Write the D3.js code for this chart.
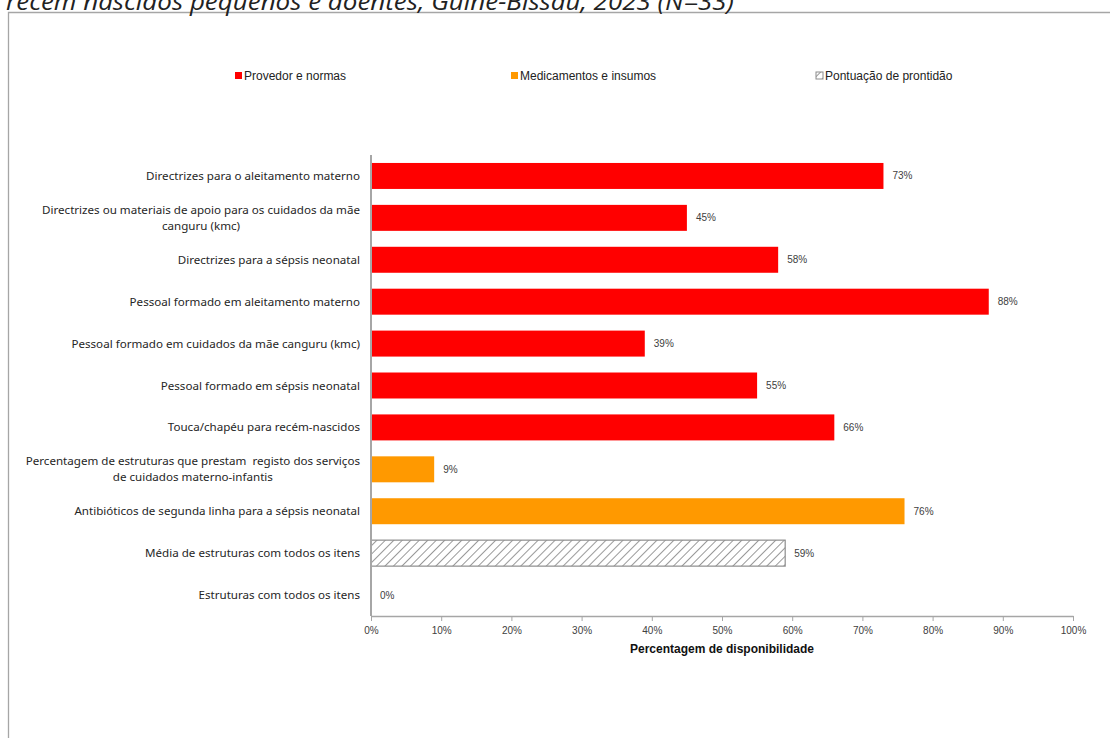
<!DOCTYPE html>
<html>
<head>
<meta charset="utf-8">
<script src="https://cdn.jsdelivr.net/npm/d3@7"></script>
<style>
  html, body { margin: 0; padding: 0; background: #fff; }
  svg { display: block; }
</style>
</head>
<body>
<script>
// Readiness items, values (% of facilities) and their group
const categories = [
  "Directrizes para o aleitamento materno",
  "Directrizes ou materiais de apoio para os cuidados da mãe|canguru (kmc)",
  "Directrizes para a sépsis neonatal",
  "Pessoal formado em aleitamento materno",
  "Pessoal formado em cuidados da mãe canguru (kmc)",
  "Pessoal formado em sépsis neonatal",
  "Touca/chapéu para recém-nascidos",
  "Percentagem de estruturas que prestam\u00a0 registo dos serviços|de cuidados materno-infantis",
  "Antibióticos de segunda linha para a sépsis neonatal",
  "Média de estruturas com todos os itens",
  "Estruturas com todos os itens"
];
const values = [73, 45, 58, 88, 39, 55, 66, 9, 76, 59, 0];
const groups = ["prov", "prov", "prov", "prov", "prov", "prov", "prov", "med", "med", "score", "score"];
const seriesKeys = ["prov", "med", "score"];
const seriesNames = ["Provedor e normas", "Medicamentos e insumos", "Pontuação de prontidão"];
const xTicks = [0, 10, 20, 30, 40, 50, 60, 70, 80, 90, 100];
const titleText = "recém nascidos pequenos e doentes, Guiné-Bissau, 2023 (N=33)";
const axisTitle = "Percentagem de disponibilidade";

const W = 1110, H = 738;
const svg = d3.select("body").append("svg").attr("width", W).attr("height", H);

const defs = svg.append("defs");
const pat = defs.append("pattern")
  .attr("id", "hatch").attr("patternUnits", "userSpaceOnUse")
  .attr("width", 6).attr("height", 6)
  .attr("patternTransform", "rotate(45)");
pat.append("rect").attr("width", 6).attr("height", 6).attr("fill", "#fff");
pat.append("line").attr("x1", 0).attr("y1", 0).attr("x2", 0).attr("y2", 6)
  .attr("stroke", "#7f7f7f").attr("stroke-width", 1.6);

const colour = d3.scaleOrdinal().domain(seriesKeys).range(["#ff0000", "#ff9900", "url(#hatch)"]);

// frame around the chart
svg.append("path")
  .attr("d", `M8.5,${H} V12.5 H${W}`)
  .attr("fill", "none").attr("stroke", "#a6a6a6").attr("stroke-width", 1.3);

// title (runs above the frame)
svg.append("text")
  .attr("x", 6).attr("y", 10)
  .attr("font-family", "'Open Sans', 'Noto Sans', sans-serif")
  .attr("font-style", "italic")
  .attr("font-size", 24)
  .attr("fill", "#222")
  .attr("textLength", 728)
  .attr("lengthAdjust", "spacingAndGlyphs")
  .text(titleText);

const x = d3.scaleLinear().domain([0, 100]).range([371, 1073]);
const y = d3.scaleBand().domain(categories).range([155, 616]).paddingInner(0.38).paddingOuter(0.19);

// bars
svg.append("g").selectAll("rect")
  .data(categories)
  .join("rect")
  .attr("x", x(0))
  .attr("y", d => y(d))
  .attr("width", (d, i) => x(values[i]) - x(0))
  .attr("height", y.bandwidth())
  .attr("fill", (d, i) => colour(groups[i]))
  .attr("stroke", (d, i) => groups[i] === "score" && values[i] > 0 ? "#8c8c8c" : "none")
  .attr("stroke-width", 1.2);

// value labels
svg.append("g").selectAll("text")
  .data(categories)
  .join("text")
  .attr("x", (d, i) => x(values[i]) + 9)
  .attr("y", d => y(d) + y.bandwidth() / 2)
  .attr("dy", "0.35em")
  .attr("font-family", "'Liberation Sans Narrow', 'Liberation Sans', Arial, sans-serif")
  .attr("font-size", 10)
  .attr("fill", "#404040")
  .text((d, i) => values[i] + "%");

// category labels (multi-line labels are centred on their widest line)
const labelG = svg.append("g")
  .attr("font-family", "'Noto Sans', sans-serif")
  .attr("font-size", 11.6)
  .attr("fill", "#262626");
categories.forEach(c => {
  const lines = c.split("|");
  const t = labelG.append("text").attr("text-anchor", "middle");
  const lh = 16;
  const cy = y(c) + y.bandwidth() / 2;
  lines.forEach((ln, k) => {
    t.append("tspan").attr("y", cy + (k - (lines.length - 1) / 2) * lh).attr("dy", "0.35em").text(ln);
  });
  let maxW = 0;
  t.selectAll("tspan").each(function () { maxW = Math.max(maxW, this.getComputedTextLength()); });
  t.selectAll("tspan").attr("x", 360 - maxW / 2);
});

// y axis line
svg.append("line")
  .attr("x1", x(0)).attr("x2", x(0)).attr("y1", 155).attr("y2", 616)
  .attr("stroke", "#a6a6a6").attr("stroke-width", 2);

// x axis
const xAxis = svg.append("g")
  .attr("transform", "translate(0,616)")
  .call(d3.axisBottom(x).tickValues(xTicks).tickFormat(d => d + "%").tickSize(5).tickSizeOuter(0));
xAxis.select(".domain").attr("stroke", "#a6a6a6").attr("stroke-width", 1.5);
xAxis.selectAll(".tick line").attr("stroke", "#a6a6a6");
xAxis.selectAll(".tick text")
  .attr("font-family", "'Liberation Sans Narrow', 'Liberation Sans', Arial, sans-serif")
  .attr("font-size", 10).attr("fill", "#404040").attr("dy", "0.95em");

svg.append("text")
  .attr("x", 722).attr("y", 653)
  .attr("text-anchor", "middle")
  .attr("font-family", "'Liberation Sans Narrow', 'Liberation Sans', Arial, sans-serif")
  .attr("font-weight", "bold")
  .attr("font-size", 12)
  .attr("fill", "#111")
  .text(axisTitle);

// legend
const legendX = [235, 511, 816];
const lg = svg.append("g")
  .attr("font-family", "'Liberation Sans Narrow', 'Liberation Sans', Arial, sans-serif")
  .attr("font-size", 12).attr("fill", "#222");
seriesKeys.forEach((k, i) => {
  const g = lg.append("g").attr("transform", `translate(${legendX[i]},76)`);
  g.append("rect").attr("x", 0).attr("y", -4).attr("width", 7).attr("height", 7)
    .attr("fill", colour(k))
    .attr("stroke", k === "score" ? "#8c8c8c" : "none");
  g.append("text").attr("x", 9).attr("dy", "0.35em").text(seriesNames[i]);
});
</script>
</body>
</html>
